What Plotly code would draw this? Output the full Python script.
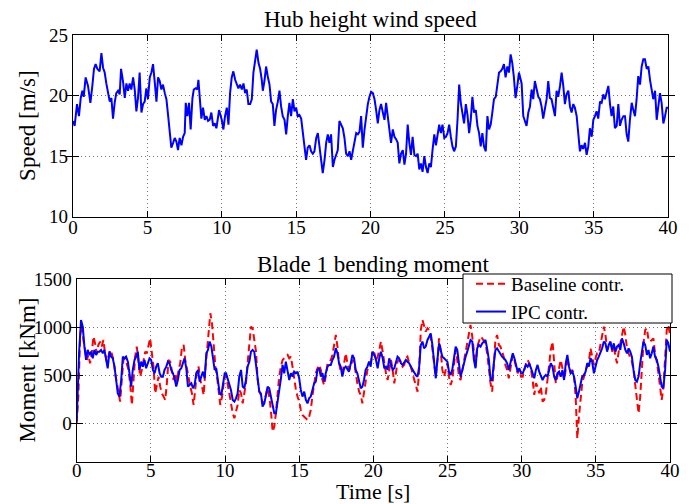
import plotly.graph_objects as go

# ---------------- Hub height wind speed ----------------
time_wind = [
    0.00, 0.11, 0.27, 0.40, 0.52, 0.63, 0.72, 0.85, 1.01, 1.17, 1.30, 1.41, 1.52, 1.64, 1.79, 1.91,
    2.02, 2.13, 2.24, 2.35, 2.47, 2.58, 2.69, 2.80, 2.91, 3.03, 3.14, 3.23, 3.36, 3.48, 3.59, 3.70,
    3.81, 3.92, 4.04, 4.15, 4.26, 4.37, 4.48, 4.60, 4.71, 4.82, 4.93, 5.04, 5.16, 5.27, 5.38, 5.49,
    5.61, 5.72, 5.83, 5.94, 6.05, 6.17, 6.28, 6.39, 6.50, 6.61, 6.73, 6.84, 6.95, 7.06, 7.17, 7.29,
    7.40, 7.51, 7.58, 7.69, 7.80, 7.91, 8.03, 8.12, 8.25, 8.36, 8.43, 8.52, 8.63, 8.74, 8.86, 8.97,
    9.08, 9.19, 9.30, 9.42, 9.53, 9.64, 9.82, 10.00, 10.11, 10.22, 10.34, 10.45, 10.56, 10.67, 10.78, 10.90,
    11.01, 11.12, 11.23, 11.35, 11.46, 11.57, 11.68, 11.79, 11.91, 12.02, 12.13, 12.24, 12.35, 12.47, 12.58, 12.69,
    12.76, 12.87, 12.98, 13.09, 13.21, 13.32, 13.43, 13.54, 13.65, 13.77, 13.88, 13.99, 14.10, 14.22, 14.33, 14.44,
    14.55, 14.66, 14.78, 14.89, 15.00, 15.11, 15.22, 15.34, 15.45, 15.56, 15.67, 15.78, 15.90, 16.01, 16.12, 16.23,
    16.35, 16.46, 16.57, 16.68, 16.79, 16.91, 17.02, 17.13, 17.24, 17.35, 17.47, 17.58, 17.69, 17.80, 17.91, 18.03,
    18.14, 18.25, 18.36, 18.48, 18.59, 18.70, 18.81, 18.92, 19.04, 19.15, 19.26, 19.37, 19.48, 19.60, 19.71, 19.82,
    19.93, 20.04, 20.16, 20.27, 20.38, 20.49, 20.60, 20.71, 20.83, 20.94, 21.05, 21.16, 21.27, 21.38, 21.50, 21.61,
    21.72, 21.83, 21.94, 22.05, 22.17, 22.28, 22.39, 22.50, 22.61, 22.72, 22.83, 22.95, 23.06, 23.17, 23.28, 23.39,
    23.50, 23.62, 23.73, 23.84, 23.95, 24.06, 24.17, 24.29, 24.40, 24.51, 24.62, 24.73, 24.84, 24.96, 25.07, 25.18,
    25.29, 25.40, 25.51, 25.62, 25.74, 25.85, 25.96, 26.07, 26.18, 26.29, 26.41, 26.52, 26.63, 26.74, 26.85, 26.96,
    27.08, 27.19, 27.30, 27.41, 27.52, 27.63, 27.75, 27.86, 27.97, 28.08, 28.19, 28.30, 28.42, 28.53, 28.64, 28.75,
    28.86, 28.97, 29.08, 29.20, 29.31, 29.42, 29.53, 29.64, 29.75, 29.87, 29.98, 30.16, 30.27, 30.38, 30.49, 30.61,
    30.72, 30.83, 30.94, 31.05, 31.17, 31.28, 31.39, 31.50, 31.61, 31.73, 31.84, 31.95, 32.06, 32.17, 32.29, 32.40,
    32.51, 32.62, 32.74, 32.85, 32.96, 33.07, 33.18, 33.30, 33.41, 33.52, 33.63, 33.74, 33.86, 33.97, 34.08, 34.19,
    34.30, 34.42, 34.53, 34.64, 34.75, 34.87, 34.98, 35.09, 35.20, 35.31, 35.43, 35.54, 35.65, 35.76, 35.87, 35.99,
    36.10, 36.21, 36.32, 36.43, 36.55, 36.66, 36.77, 36.88, 37.00, 37.11, 37.22, 37.33, 37.44, 37.56, 37.67, 37.78,
    37.89, 38.00, 38.12, 38.23, 38.34, 38.45, 38.57, 38.68, 38.79, 38.90, 39.01, 39.13, 39.24, 39.35, 39.46, 39.57,
    39.69, 39.80, 39.91, 40.00,
]
speed_wind = [
    17.9, 17.5, 19.3, 18.3, 19.8, 20.4, 19.9, 21.5, 20.8, 19.4, 20.8, 22.2, 22.6, 22.2, 22.0, 23.5,
    22.3, 21.9, 21.0, 20.4, 19.5, 19.8, 18.1, 19.4, 20.2, 20.4, 20.1, 22.2, 21.2, 19.8, 21.0, 20.4,
    21.0, 20.5, 21.5, 20.5, 18.7, 19.8, 21.9, 18.6, 19.3, 19.5, 20.6, 19.7, 21.5, 21.9, 22.6, 21.2,
    19.5, 21.5, 21.2, 20.5, 20.9, 20.2, 19.7, 18.4, 17.2, 15.7, 16.1, 16.5, 16.2, 15.5, 16.5, 15.9,
    16.6, 16.9, 19.4, 18.3, 19.4, 17.2, 19.8, 20.5, 20.6, 20.5, 21.3, 19.4, 18.1, 19.0, 18.0, 18.3,
    17.9, 18.0, 18.6, 17.5, 17.7, 17.3, 18.8, 18.0, 17.2, 18.3, 19.0, 17.6, 20.2, 21.5, 22.0, 21.3,
    21.0, 20.6, 20.9, 20.5, 21.0, 20.2, 20.5, 19.3, 19.3, 19.7, 21.9, 23.0, 23.8, 22.7, 22.2, 21.3,
    20.4, 21.2, 22.4, 21.6, 20.9, 19.5, 19.3, 17.5, 18.8, 19.5, 20.4, 19.1, 18.3, 18.0, 16.8, 18.3,
    19.4, 18.3, 19.7, 18.7, 19.0, 18.3, 18.4, 18.1, 16.9, 15.5, 14.7, 15.7, 15.9, 15.4, 15.2, 15.4,
    16.5, 16.9, 15.7, 14.4, 13.6, 14.7, 16.1, 16.8, 16.1, 16.8, 14.1, 14.7, 15.2, 15.5, 17.9, 17.5,
    17.3, 16.5, 15.2, 15.0, 15.4, 14.7, 15.4, 16.1, 16.9, 16.8, 17.0, 18.3, 15.7, 17.2, 18.3, 19.3,
    19.9, 20.3, 20.2, 19.7, 18.8, 17.7, 18.8, 19.3, 18.6, 18.0, 19.4, 18.3, 17.7, 16.1, 17.2, 16.6,
    16.4, 16.1, 14.4, 15.2, 15.5, 14.3, 15.2, 17.6, 16.1, 15.1, 16.6, 15.1, 15.0, 15.2, 13.9, 14.4,
    13.7, 15.0, 14.1, 13.6, 14.4, 14.1, 15.5, 16.8, 15.9, 17.0, 17.6, 16.9, 17.6, 16.5, 16.6, 16.9,
    17.6, 16.6, 15.8, 15.4, 15.8, 18.0, 20.9, 19.4, 18.6, 17.7, 19.3, 18.4, 16.9, 18.0, 19.9, 18.6,
    18.8, 17.5, 16.9, 15.8, 16.9, 15.8, 15.4, 18.3, 17.2, 17.6, 18.6, 19.7, 19.9, 21.0, 21.9, 22.0,
    22.2, 22.6, 21.5, 22.4, 21.9, 23.4, 22.7, 21.5, 19.8, 20.8, 21.9, 21.0, 18.3, 17.9, 17.5, 18.6,
    19.1, 20.5, 19.7, 21.2, 20.5, 19.9, 19.7, 19.1, 18.1, 19.0, 19.7, 21.2, 19.8, 19.7, 19.1, 18.3,
    20.4, 19.9, 20.8, 21.9, 20.8, 19.3, 20.1, 20.4, 19.1, 18.6, 19.3, 19.0, 18.3, 16.8, 15.4, 15.9,
    15.6, 16.1, 15.1, 15.8, 17.3, 16.6, 18.0, 18.3, 18.7, 18.1, 19.5, 19.4, 20.1, 19.7, 20.2, 20.8,
    19.3, 18.3, 19.1, 17.3, 17.5, 19.3, 17.5, 18.0, 18.3, 18.3, 16.8, 16.2, 18.0, 19.4, 18.8, 18.3,
    19.7, 21.6, 20.9, 22.4, 23.0, 23.0, 22.2, 22.4, 21.3, 20.6, 19.7, 20.4, 18.0, 19.1, 20.2, 19.4,
    17.7, 18.3, 19.0, 19.0,
]

# ---------------- Blade 1 bending moment ----------------
time_ipc = [
    0.00, 0.16, 0.29, 0.41, 0.52, 0.63, 0.74, 0.86, 0.97, 1.08, 1.19, 1.31, 1.42, 1.53, 1.64, 1.76,
    1.87, 1.98, 2.09, 2.21, 2.32, 2.43, 2.55, 2.66, 2.77, 2.88, 3.00, 3.11, 3.22, 3.33, 3.45, 3.56,
    3.67, 3.78, 3.90, 4.01, 4.12, 4.23, 4.35, 4.46, 4.57, 4.68, 4.80, 4.91, 5.02, 5.14, 5.25, 5.36,
    5.47, 5.59, 5.70, 5.81, 5.92, 6.04, 6.15, 6.26, 6.37, 6.49, 6.60, 6.71, 6.82, 6.94, 7.05, 7.16,
    7.27, 7.39, 7.50, 7.61, 7.73, 7.84, 7.95, 8.06, 8.18, 8.29, 8.40, 8.51, 8.63, 8.74, 8.85, 8.96,
    9.08, 9.19, 9.30, 9.41, 9.53, 9.64, 9.75, 9.86, 9.98,
    10.07, 10.18, 10.29, 10.40, 10.52, 10.63, 10.74, 10.85, 10.96, 11.08, 11.19, 11.30, 11.41, 11.52, 11.64, 11.75,
    11.86, 11.97, 12.09, 12.20, 12.31, 12.42, 12.53, 12.65, 12.76, 12.87, 12.98, 13.09, 13.21, 13.32, 13.43, 13.54,
    13.65, 13.77, 13.88, 13.99, 14.10, 14.22, 14.33, 14.44, 14.55, 14.66, 14.78, 14.89, 15.00, 15.11, 15.22, 15.34,
    15.45, 15.56, 15.67, 15.78, 15.90, 16.01, 16.12, 16.23, 16.35, 16.46, 16.57, 16.68, 16.79, 16.91, 17.02, 17.13,
    17.24, 17.35, 17.47, 17.58, 17.69, 17.80, 17.91, 18.03, 18.14, 18.25, 18.36, 18.48, 18.59, 18.70, 18.81, 18.92,
    19.04, 19.15, 19.26, 19.37, 19.48, 19.60, 19.71, 19.82, 19.93,
    20.07, 20.18, 20.29, 20.40, 20.51, 20.63, 20.74, 20.85, 20.96, 21.07, 21.19, 21.30, 21.41, 21.52, 21.63, 21.74,
    21.86, 21.97, 22.08, 22.19, 22.30, 22.42, 22.53, 22.64, 22.75, 22.86, 22.98, 23.09, 23.20, 23.31, 23.42, 23.53,
    23.65, 23.76, 23.87, 23.98, 24.09, 24.21, 24.32, 24.43, 24.54, 24.65, 24.77, 24.88, 24.99, 25.10, 25.21, 25.32,
    25.44, 25.55, 25.66, 25.77, 25.88, 26.00, 26.11, 26.22, 26.33, 26.44, 26.55, 26.67, 26.78, 26.89, 27.00, 27.11,
    27.23, 27.34, 27.45, 27.56, 27.67, 27.79, 27.90, 28.01, 28.12, 28.23, 28.34, 28.46, 28.57, 28.68, 28.79, 28.90,
    29.02, 29.13,
    29.29, 29.40, 29.51, 29.62, 29.73, 29.84, 29.96, 30.07, 30.18, 30.29, 30.40, 30.51, 30.63, 30.74, 30.85, 30.96,
    31.07, 31.18, 31.29, 31.41, 31.52, 31.63, 31.74, 31.85, 31.96, 32.08, 32.19, 32.30, 32.41, 32.52, 32.63, 32.75,
    32.86, 32.97, 33.08, 33.19, 33.30, 33.42, 33.53, 33.64, 33.75, 33.86, 33.97, 34.08, 34.20, 34.31, 34.42, 34.53,
    34.64, 34.75, 34.87, 34.98, 35.09, 35.20, 35.31, 35.42, 35.54, 35.65, 35.76, 35.87, 35.98, 36.09, 36.21, 36.32,
    36.43, 36.54, 36.65, 36.76, 36.88, 36.99, 37.10, 37.21, 37.32, 37.43, 37.54, 37.66, 37.77, 37.88, 37.99, 38.10,
    38.21, 38.33, 38.44, 38.55, 38.66, 38.77, 38.88, 38.99, 39.11, 39.22, 39.33, 39.44, 39.55, 39.67, 39.78, 39.89,
    40.00,
]
moment_ipc = [
    20, 729, 1076, 1007, 799, 660, 764, 712, 746, 677, 764, 712, 746, 746, 764, 729,
    764, 660, 573, 746, 694, 677, 590, 451, 312, 278, 451, 694, 677, 694, 642, 521,
    382, 556, 660, 694, 746, 556, 642, 590, 660, 573, 625, 677, 660, 556, 521, 590,
    625, 521, 486, 486, 556, 590, 642, 625, 556, 521, 469, 382, 451, 556, 573, 625,
    677, 573, 382, 399, 417, 365, 399, 521, 556, 434, 486, 538, 469, 729, 764, 851,
    799, 677, 556, 573, 451, 312, 295, 417, 521,
    521, 469, 399, 347, 243, 226, 260, 312, 486, 556, 382, 365, 451, 590, 642, 746,
    764, 746, 608, 469, 330, 312, 174, 208, 295, 382, 365, 278, 174, 104, 104, 208,
    347, 469, 608, 521, 642, 556, 451, 521, 486, 538, 521, 538, 469, 347, 278, 330,
    243, 208, 260, 278, 347, 417, 434, 556, 573, 486, 521, 434, 521, 590, 608, 608,
    660, 694, 781, 729, 625, 590, 486, 573, 590, 556, 538, 625, 712, 677, 556, 521,
    434, 365, 382, 451, 556, 590, 642, 590, 746,
    712, 660, 573, 677, 746, 677, 573, 590, 556, 677, 608, 556, 573, 642, 694, 677,
    625, 608, 642, 660, 642, 625, 590, 556, 521, 503, 486, 590, 816, 851, 781, 799,
    868, 903, 937, 816, 642, 469, 660, 833, 764, 694, 677, 660, 642, 538, 503, 556,
    694, 799, 764, 590, 486, 556, 642, 694, 746, 799, 868, 851, 660, 573, 781, 816,
    799, 833, 851, 868, 781, 660, 451, 451, 625, 764, 781, 746, 729, 694, 677, 660,
    625, 556,
    660, 729, 677, 590, 538, 573, 521, 521, 573, 608, 590, 625, 573, 521, 469, 556,
    608, 538, 486, 451, 486, 503, 486, 556, 625, 590, 486, 451, 521, 538, 486, 556,
    451, 625, 712, 590, 521, 538, 486, 382, 260, 330, 417, 486, 503, 538, 625, 590,
    677, 642, 521, 590, 660, 694, 729, 781, 851, 833, 746, 816, 851, 764, 833, 746,
    799, 816, 764, 885, 833, 764, 729, 781, 746, 694, 556, 451, 434, 486, 625, 764,
    851, 816, 712, 764, 677, 729, 799, 694, 660, 590, 486, 382, 365, 556, 868, 833,
    746,
]

time_baseline = [
    0.00, 0.11, 0.23, 0.34, 0.45, 0.56, 0.68, 0.79, 0.90, 1.01, 1.13, 1.24, 1.35, 1.46, 1.58, 1.69,
    1.80, 1.91, 2.03, 2.14, 2.25, 2.36, 2.48, 2.59, 2.70, 2.82, 2.93, 3.04, 3.15, 3.27, 3.38, 3.49,
    3.60, 3.72, 3.83, 3.94, 4.05, 4.17, 4.28, 4.39, 4.50, 4.62, 4.73, 4.84, 4.95, 5.07, 5.18, 5.29,
    5.41, 5.52, 5.63, 5.74, 5.86, 5.97, 6.08, 6.19, 6.31, 6.42, 6.53, 6.64, 6.76, 6.87, 6.98, 7.09,
    7.21, 7.32, 7.43, 7.55, 7.66, 7.77, 7.88, 7.99, 8.11, 8.22, 8.33, 8.45, 8.56, 8.67, 8.78, 8.90,
    9.01, 9.12, 9.23, 9.35, 9.46, 9.57, 9.68, 9.80, 9.91,
    10.07, 10.18, 10.29, 10.40, 10.52, 10.63, 10.74, 10.85, 10.96, 11.08, 11.19, 11.30, 11.41, 11.52, 11.64, 11.75,
    11.86, 11.97, 12.09, 12.20, 12.31, 12.42, 12.53, 12.65, 12.76, 12.87, 12.98, 13.09, 13.21, 13.32, 13.43, 13.54,
    13.65, 13.77, 13.88, 13.99, 14.10, 14.22, 14.33, 14.44, 14.55, 14.66, 14.78, 14.89, 15.00, 15.11, 15.22, 15.34,
    15.45, 15.56, 15.67, 15.78, 15.90, 16.01, 16.12, 16.23, 16.35, 16.46, 16.57, 16.68, 16.79, 16.91, 17.02, 17.13,
    17.24, 17.35, 17.47, 17.58, 17.69, 17.80, 17.91, 18.03, 18.14, 18.25, 18.36, 18.48, 18.59, 18.70, 18.81, 18.92,
    19.04, 19.15, 19.26, 19.37, 19.48, 19.60, 19.71, 19.82, 19.93,
    20.07, 20.18, 20.29, 20.40, 20.51, 20.63, 20.74, 20.85, 20.96, 21.07, 21.19, 21.30, 21.41, 21.52, 21.63, 21.74,
    21.86, 21.97, 22.08, 22.19, 22.30, 22.42, 22.53, 22.64, 22.75, 22.86, 22.98, 23.09, 23.20, 23.31, 23.42, 23.53,
    23.65, 23.76, 23.87, 23.98, 24.09, 24.21, 24.32, 24.43, 24.54, 24.65, 24.77, 24.88, 24.99, 25.10, 25.21, 25.32,
    25.44, 25.55, 25.66, 25.77, 25.88, 26.00, 26.11, 26.22, 26.33, 26.44, 26.55, 26.67, 26.78, 26.89, 27.00, 27.11,
    27.23, 27.34, 27.45, 27.56, 27.67, 27.79, 27.90, 28.01, 28.12, 28.23, 28.34, 28.46, 28.57, 28.68, 28.79, 28.90,
    29.02, 29.13,
    29.29, 29.40, 29.51, 29.62, 29.73, 29.84, 29.96, 30.07, 30.18, 30.29, 30.40, 30.51, 30.63, 30.74, 30.85, 30.96,
    31.07, 31.18, 31.29, 31.41, 31.52, 31.63, 31.74, 31.85, 31.96, 32.08, 32.19, 32.30, 32.41, 32.52, 32.63, 32.75,
    32.86, 32.97, 33.08, 33.19, 33.30, 33.42, 33.53, 33.64, 33.75, 33.86, 33.97, 34.08, 34.20, 34.31, 34.42, 34.53,
    34.64, 34.75, 34.87, 34.98, 35.09, 35.20, 35.31, 35.42, 35.54, 35.65, 35.76, 35.87, 35.98, 36.09, 36.21, 36.32,
    36.43, 36.54, 36.65, 36.76, 36.88, 36.99, 37.10, 37.21, 37.32, 37.43, 37.54, 37.66, 37.77, 37.88, 37.99, 38.10,
    38.21, 38.33, 38.44, 38.55, 38.66, 38.77, 38.88, 38.99, 39.11, 39.22, 39.33, 39.44, 39.55, 39.67, 39.78, 39.89,
    40.00,
]
moment_baseline = [
    0, 278, 903, 1024, 868, 764, 660, 712, 625, 729, 903, 833, 729, 816, 851, 799,
    868, 729, 642, 694, 764, 729, 660, 521, 417, 347, 226, 451, 660, 677, 608, 556,
    417, 191, 451, 694, 799, 625, 486, 556, 660, 746, 729, 799, 885, 729, 590, 312,
    417, 486, 382, 312, 278, 243, 417, 660, 642, 556, 451, 521, 434, 556, 625, 781,
    816, 660, 556, 451, 382, 312, 191, 347, 556, 590, 451, 382, 295, 556, 799, 955,
    1146, 1042, 833, 590, 486, 330, 191, 278, 417,
    503, 399, 312, 208, 104, 52, 139, 191, 347, 312, 208, 295, 417, 625, 868, 1007,
    990, 851, 746, 451, 330, 295, 208, 226, 312, 365, 278, 139, -87, -35, 104, 347,
    486, 590, 660, 677, 694, 712, 677, 694, 590, 451, 347, 278, 226, 139, 87, 69,
    52, 35, 69, 139, 295, 399, 521, 573, 608, 556, 451, 399, 486, 625, 642, 660,
    712, 799, 920, 799, 625, 538, 521, 625, 729, 625, 556, 590, 660, 642, 521, 417,
    330, 295, 208, 312, 451, 556, 590, 625, 729,
    729, 660, 694, 764, 851, 746, 625, 521, 451, 556, 660, 556, 417, 521, 642, 660,
    642, 590, 608, 677, 694, 625, 590, 521, 451, 382, 330, 556, 972, 1076, 1007, 955,
    990, 972, 885, 781, 625, 486, 660, 885, 764, 556, 486, 556, 625, 486, 399, 451,
    625, 764, 660, 486, 451, 556, 642, 764, 816, 937, 1024, 903, 712, 590, 799, 851,
    903, 885, 851, 833, 729, 556, 417, 330, 556, 868, 920, 816, 799, 746, 694, 608,
    556, 469,
    590, 712, 660, 573, 521, 556, 486, 486, 556, 625, 660, 625, 556, 451, 295, 417,
    382, 312, 382, 226, 243, 312, 451, 608, 764, 851, 625, 417, 486, 590, 660, 573,
    451, 556, 694, 590, 538, 556, 486, 278, -156, 69, 278, 417, 486, 556, 590, 642,
    781, 712, 608, 677, 729, 729, 816, 903, 1007, 920, 764, 816, 851, 746, 816, 694,
    625, 746, 833, 920, 1007, 920, 781, 729, 694, 642, 556, 382, 208, 104, 278, 556,
    833, 972, 990, 868, 851, 868, 885, 729, 642, 521, 347, 243, 365, 694, 972, 1024,
    920,
]

wind_ticks = [10, 15, 20, 25]
moment_ticks = [0, 500, 1000, 1500]
time_ticks = [0, 5, 10, 15, 20, 25, 30, 35, 40]

FONT = "Liberation Serif, Times New Roman, serif"
BLUE = "rgb(0,0,255)"
RED = "rgb(255,0,0)"
LABEL_SIZE = 23
TICK_FONT = dict(family=FONT, size=19, color="black")

fig = go.Figure()

fig.add_trace(go.Scatter(
    x=time_wind, y=speed_wind, mode="lines", xaxis="x", yaxis="y",
    line=dict(color=BLUE, width=2), showlegend=False,
))
fig.add_trace(go.Scatter(
    x=time_baseline, y=moment_baseline, mode="lines", xaxis="x2", yaxis="y2",
    name="Baseline contr.", line=dict(color=RED, width=2, dash="7px,4px"),
))
fig.add_trace(go.Scatter(
    x=time_ipc, y=moment_ipc, mode="lines", xaxis="x2", yaxis="y2",
    name="IPC contr.", line=dict(color=BLUE, width=2),
))

# transparent copies bound to the time-label axes so those axes get drawn
fig.add_trace(go.Scatter(
    x=time_wind, y=speed_wind, mode="lines", xaxis="x3", yaxis="y",
    opacity=0, showlegend=False, hoverinfo="skip",
))
fig.add_trace(go.Scatter(
    x=time_ipc, y=moment_ipc, mode="lines", xaxis="x4", yaxis="y2",
    opacity=0, showlegend=False, hoverinfo="skip",
))

axis_common = dict(
    showline=True, linecolor="black", linewidth=1.2, mirror="allticks",
    ticks="inside", ticklen=6, tickwidth=1, tickcolor="black",
    showgrid=True, gridcolor="rgba(0,0,0,0.55)", gridwidth=1, griddash="1px,3px",
    zeroline=False, automargin=False, tickfont=TICK_FONT,
)

# time-axis labels are carried by free overlay axes sitting a few px above the frame
label_axis = dict(
    anchor="free", range=[0, 40], tickvals=time_ticks, showline=False, ticks="",
    showgrid=False, zeroline=False, automargin=False, tickfont=TICK_FONT,
)

W, H = 693, 504
TOP_BOTTOM = 1 - 216.7 / H
LOW_BOTTOM = 1 - 461.7 / H

fig.update_layout(
    width=W, height=H,
    margin=dict(l=0, r=0, t=0, b=0, pad=0, autoexpand=False),
    paper_bgcolor="white", plot_bgcolor="white",
    font=dict(family=FONT, color="black"),
    xaxis=dict(axis_common, domain=[73 / W, 668 / W], range=[0, 40],
               tickvals=time_ticks, anchor="y", showticklabels=False),
    yaxis=dict(axis_common, domain=[TOP_BOTTOM, 1 - 35 / H], range=[10, 25],
               tickvals=wind_ticks, anchor="x"),
    xaxis2=dict(axis_common, domain=[76.7 / W, 670 / W], range=[0, 40],
                tickvals=time_ticks, anchor="y2", showticklabels=False),
    yaxis2=dict(axis_common, domain=[LOW_BOTTOM, 1 - 279.3 / H], range=[-400, 1500],
                tickvals=moment_ticks, anchor="x2"),
    xaxis3=dict(label_axis, overlaying="x", position=TOP_BOTTOM + 3 / H),
    xaxis4=dict(label_axis, overlaying="x2", position=LOW_BOTTOM + 5 / H),
    # legend entries sit on a framed box drawn as a paper shape
    legend=dict(
        x=471 / W, y=1 - 265 / H, xanchor="left", yanchor="top",
        bgcolor="rgba(0,0,0,0)", borderwidth=0,
        font=dict(family=FONT, size=19, color="black"),
        tracegroupgap=0,
    ),
    shapes=[
        dict(type="rect", xref="paper", yref="paper", layer="above",
             x0=463 / W, x1=672 / W, y0=1 - 323 / H, y1=1 - 274 / H,
             fillcolor="white", line=dict(color="black", width=1)),
    ],
    annotations=[
        dict(text="Hub height wind speed", x=370.5 / W, y=1 - 19.5 / H, xref="paper", yref="paper",
             showarrow=False, xanchor="center", yanchor="middle",
             font=dict(family=FONT, size=LABEL_SIZE)),
        dict(text="Blade 1 bending moment", x=373.4 / W, y=1 - 264 / H, xref="paper", yref="paper",
             showarrow=False, xanchor="center", yanchor="middle",
             font=dict(family=FONT, size=LABEL_SIZE)),
        dict(text="Speed [m/s]", x=28 / W, y=1 - 125.9 / H, xref="paper", yref="paper",
             showarrow=False, textangle=-90, xanchor="center", yanchor="middle",
             font=dict(family=FONT, size=LABEL_SIZE)),
        dict(text="Moment [kNm]", x=27 / W, y=1 - 370.5 / H, xref="paper", yref="paper",
             showarrow=False, textangle=-90, xanchor="center", yanchor="middle",
             font=dict(family=FONT, size=LABEL_SIZE)),
        dict(text="Time [s]", x=373.4 / W, y=1 - 491 / H, xref="paper", yref="paper",
             showarrow=False, xanchor="center", yanchor="middle",
             font=dict(family=FONT, size=22)),
    ],
)

fig.write_html("out.html")
